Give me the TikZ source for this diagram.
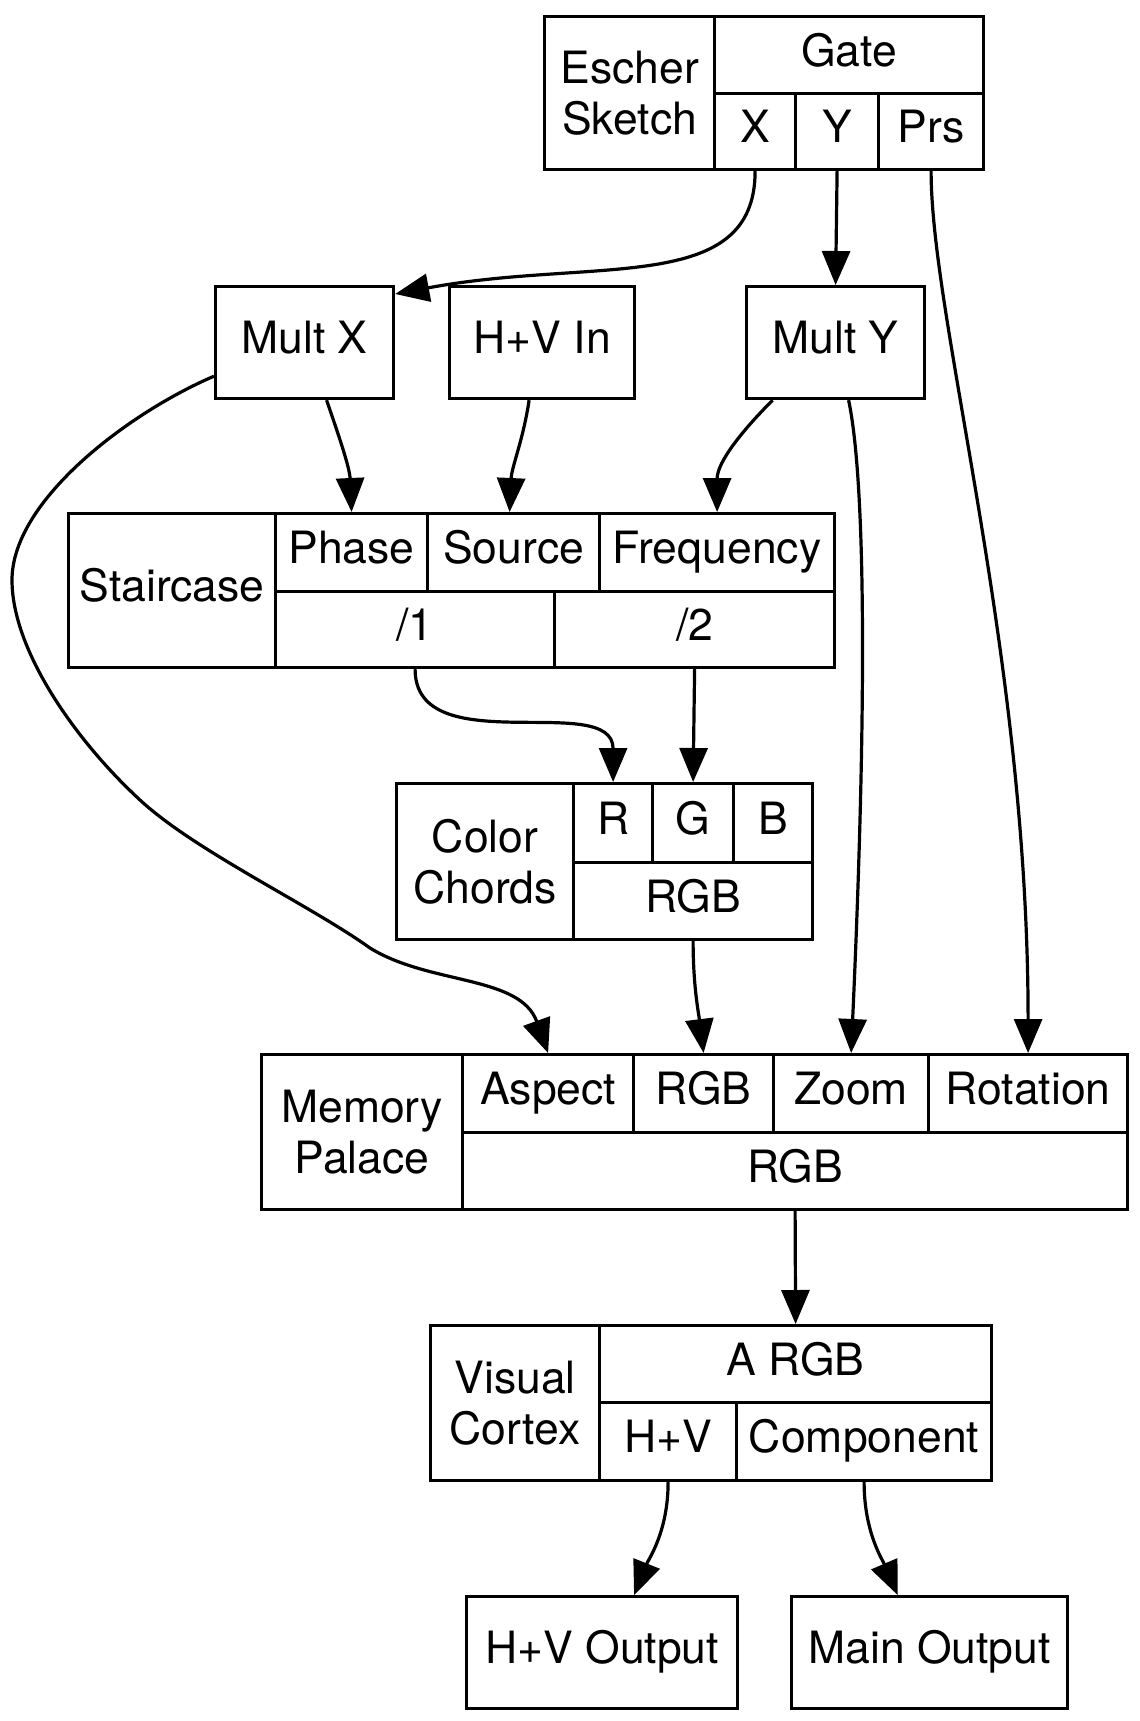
\documentclass[tikz,border=0pt]{standalone}
\usepackage{fontspec}
\setmainfont{TeX Gyre Heros}
\usetikzlibrary{arrows.meta}

\begin{document}
\begin{tikzpicture}[x=1pt,y=-1pt,line width=3.2pt,
  >={Triangle[length=34pt,width=28pt]}]
\tikzstyle{C}=[draw,line width=3.2pt,inner sep=0pt,anchor=north west,
  align=center,font=\fontsize{44.5}{51.5}\selectfont]
\tikzstyle{L}=[text height=33pt,text depth=11pt]
\tikzstyle{E}=[->,line width=3.2pt]
\tikzset{sz/.style 2 args={minimum width=#1pt,minimum height=#2pt}}
\useasboundingbox (0,0) rectangle (1140,1721);

% Escher Sketch
\node[C,sz={170}{153}] (esName) at (543,15) {Escher\\Sketch};
\node[C,L,sz={269}{77}] (esGate) at (713,15) {Gate};
\node[C,L,sz={81}{76}] (esX) at (713,92) {X};
\node[C,L,sz={83}{76}] (esY) at (794,92) {Y};
\node[C,L,sz={105}{76}] (esPrs) at (877,92) {Prs};

\node[C,L,sz={178}{112}] (multX) at (214,285) {Mult X};
\node[C,L,sz={185}{112}] (hvIn) at (448,285) {H+V In};
\node[C,L,sz={178}{112}] (multY) at (745,285) {Mult Y};

% Staircase
\node[C,L,sz={207}{154}] (stName) at (67,512) {Staircase};
\node[C,L,sz={152}{78}] (stPhase) at (274,512) {Phase};
\node[C,L,sz={172}{78}] (stSource) at (426,512) {Source};
\node[C,L,sz={235}{78}] (stFreq) at (598,512) {Frequency};
\node[C,L,sz={279}{76}] (stDiv1) at (274,590) {/1};
\node[C,L,sz={280}{76}] (stDiv2) at (553,590) {/2};

% Color Chords
\node[C,sz={177}{156}] (ccName) at (395,782) {Color\\Chords};
\node[C,L,sz={79}{79}] (ccR) at (572,782) {R};
\node[C,L,sz={81}{79}] (ccG) at (651,782) {G};
\node[C,L,sz={79}{79}] (ccB) at (732,782) {B};
\node[C,L,sz={239}{77}] (ccRGB) at (572,861) {RGB};

% Memory Palace
\node[C,sz={201}{155}] (mpName) at (260,1053) {Memory\\Palace};
\node[C,L,sz={171}{78}] (mpAspect) at (461,1053) {Aspect};
\node[C,L,sz={140}{78}] (mpRGB) at (632,1053) {RGB};
\node[C,L,sz={155}{78}] (mpZoom) at (772,1053) {Zoom};
\node[C,L,sz={199}{78}] (mpRot) at (927,1053) {Rotation};
\node[C,L,sz={665}{77}] (mpOut) at (461,1131) {RGB};

% Visual Cortex
\node[C,sz={169}{155}] (vcName) at (429,1324) {Visual\\Cortex};
\node[C,L,sz={392}{77}] (vcRGB) at (598,1324) {A RGB};
\node[C,L,sz={137}{78}] (vcHV) at (598,1401) {H+V};
\node[C,L,sz={255}{78}] (vcComp) at (735,1401) {Component};

\node[C,L,sz={271}{112}] (hvOut) at (465,1595) {H+V Output};
\node[C,L,sz={276}{112}] (mainOut) at (790,1595) {Main Output};

% connectors
\draw[E] (esX.south) .. controls +(0,125) and +(198,-37) .. ([yshift=-9pt]multX.north east);
\draw[E] (esY.south) -- (multY.north);
\draw[E] (esPrs.south) .. controls +(0,150) and +(0,-400) .. (mpRot.north);
\draw[E] ([yshift=24pt]multX.south west) .. controls (130,412) and (12,500) .. (12,580)
  .. controls (12,650) and (75,740) .. (140,800)
  .. controls (195,851) and (310,905) .. (370,948)
  .. controls (430,985) and (520,975) .. (mpAspect.north);
\draw[E] ([xshift=22pt]multX.south) .. controls +(12,35) and +(-2,-45) .. (stPhase.north);
\draw[E] ([xshift=-13pt]hvIn.south) .. controls +(-6,40) and +(2,-45) .. ([xshift=-4pt]stSource.north);
\draw[E] ([xshift=-63pt]multY.south) .. controls +(-30,30) and +(0,-50) .. (stFreq.north);
\draw[E] ([xshift=13pt]multY.south) .. controls +(17,80) and +(16,-350) .. (mpZoom.north);
\draw[E] (stDiv1.south) .. controls +(0,94) and +(0,-92) .. (ccR.north);
\draw[E] (stDiv2.south) -- (ccG.north);
\draw[E] (ccRGB.south) .. controls +(0,45) and +(-5,-40) .. (mpRGB.north);
\draw[E] (mpOut.south) -- (vcRGB.north);
\draw[E] (vcHV.south) .. controls +(0,50) and +(14,-35) .. ([xshift=32pt]hvOut.north);
\draw[E] (vcComp.south) .. controls +(0,50) and +(-15,-35) .. ([xshift=-32pt]mainOut.north);
\end{tikzpicture}
\end{document}
